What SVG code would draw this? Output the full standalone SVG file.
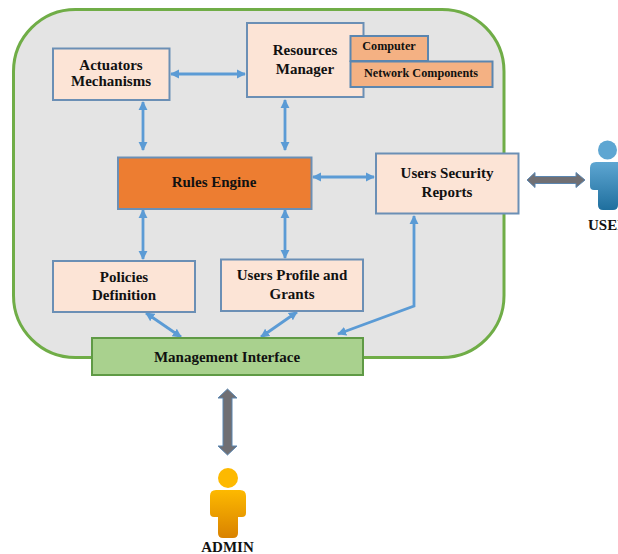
<svg xmlns="http://www.w3.org/2000/svg" width="618" height="554" viewBox="0 0 618 554">
<style>
.box{fill:#fce4d6;stroke:#6b8fb5;stroke-width:2}
.sub{fill:#f4b183;stroke:#5b86b0;stroke-width:2}
.t{font-family:"Liberation Serif","Times New Roman",serif;font-weight:bold;font-size:15px;fill:#111;text-anchor:middle}
.s{font-size:12.2px}
.c{fill:none;stroke:#5b9bd5;stroke-width:2.8;marker-start:url(#a);marker-end:url(#a)}
.b{fill:#706f73;stroke:#5b86b0;stroke-width:1}
</style>
<defs>
<marker id="a" viewBox="0 0 10 10" refX="9" refY="5" markerWidth="9" markerHeight="11" markerUnits="userSpaceOnUse" orient="auto-start-reverse"><path d="M0 0L10 5L0 10Z" fill="#5b9bd5"/></marker>
<linearGradient id="blue" x1="0" y1="0" x2="0" y2="1"><stop offset="0" stop-color="#5ea6d2"/><stop offset="1" stop-color="#1f6f9e"/></linearGradient>
<linearGradient id="gold" x1="0" y1="0" x2="0" y2="1"><stop offset="0" stop-color="#fdb900"/><stop offset="1" stop-color="#d98200"/></linearGradient>
</defs>
<g id="container"><rect x="13.5" y="9.500" width="490.500" height="348" rx="62" fill="#e4e4e4" stroke="#70ad47" stroke-width="3"/></g>
<g id="connectors">
<path class="c" d="M171 74H245"/>
<path class="c" d="M143 102V150"/>
<path class="c" d="M285 100V150"/>
<path class="c" d="M313 177H374"/>
<path class="c" d="M143 210V259"/>
<path class="c" d="M285 210V258"/>
<path class="c" d="M146 313L181 337"/>
<path class="c" d="M297 312L261 337"/>
<path class="c" d="M338 334L414 306V216"/>
<path class="b" d="M527 180L535 172.500V176.500H576V172.500L585 180L576 187.500V183.500H535V187.500Z"/>
<path class="b" d="M227.500 389L237 398H232V446H237L227.500 455L218 446H223V398H218Z"/>
</g>
<g id="actuators"><rect class="box" x="53" y="48.500" width="116.500" height="51.500"/><text class="t" x="111" y="70">Actuators</text><text class="t" x="111" y="86">Mechanisms</text></g>
<g id="resources"><rect class="box" x="247" y="23" width="116.500" height="74"/><text class="t" x="305" y="55">Resources</text><text class="t" x="305" y="74">Manager</text></g>
<g id="computer"><rect class="sub" x="350.500" y="36" width="77.500" height="25"/><text class="t s" x="389" y="50">Computer</text></g>
<g id="network"><rect class="sub" x="350.500" y="61.500" width="142" height="25.500"/><text class="t s" x="421" y="77">Network Components</text></g>
<g id="rules"><rect x="118" y="157.500" width="193.500" height="51.500" fill="#ed7d31" stroke="#6b8fb5" stroke-width="2"/><text class="t" x="214" y="187">Rules Engine</text></g>
<g id="reports"><rect class="box" x="376" y="153.500" width="142.500" height="60"/><text class="t" x="447" y="178">Users Security</text><text class="t" x="447" y="197">Reports</text></g>
<g id="policies"><rect class="box" x="53" y="261" width="142" height="51"/><text class="t" x="124" y="282">Policies</text><text class="t" x="124" y="300">Definition</text></g>
<g id="profile"><rect class="box" x="221" y="259.500" width="142" height="51.500"/><text class="t" x="292" y="280">Users Profile and</text><text class="t" x="292" y="299">Grants</text></g>
<g id="management"><rect x="92" y="338" width="271" height="37" fill="#a9d18e" stroke="#5f9a45" stroke-width="2"/><text class="t" x="227" y="362">Management Interface</text></g>
<g id="user"><circle cx="607.500" cy="150" r="9.500" fill="#5ea6d2"/><path d="M596 162H620Q626 162 626 168V186Q626 190 621 190H618V205Q618 210 613 210H603Q598 210 598 205V190H594Q590 190 590 186V168Q590 162 596 162Z" fill="url(#blue)"/><text class="t" x="608" y="230">USER</text></g>
<g id="admin"><circle cx="228" cy="478" r="10" fill="#fdb900"/><path d="M216 490H240Q246 490 246 496V513Q246 517 242 517H238V533Q238 538 233 538H223Q218 538 218 533V517H214Q210 517 210 513V496Q210 490 216 490Z" fill="url(#gold)"/><text class="t" x="227.500" y="552">ADMIN</text></g>
</svg>
